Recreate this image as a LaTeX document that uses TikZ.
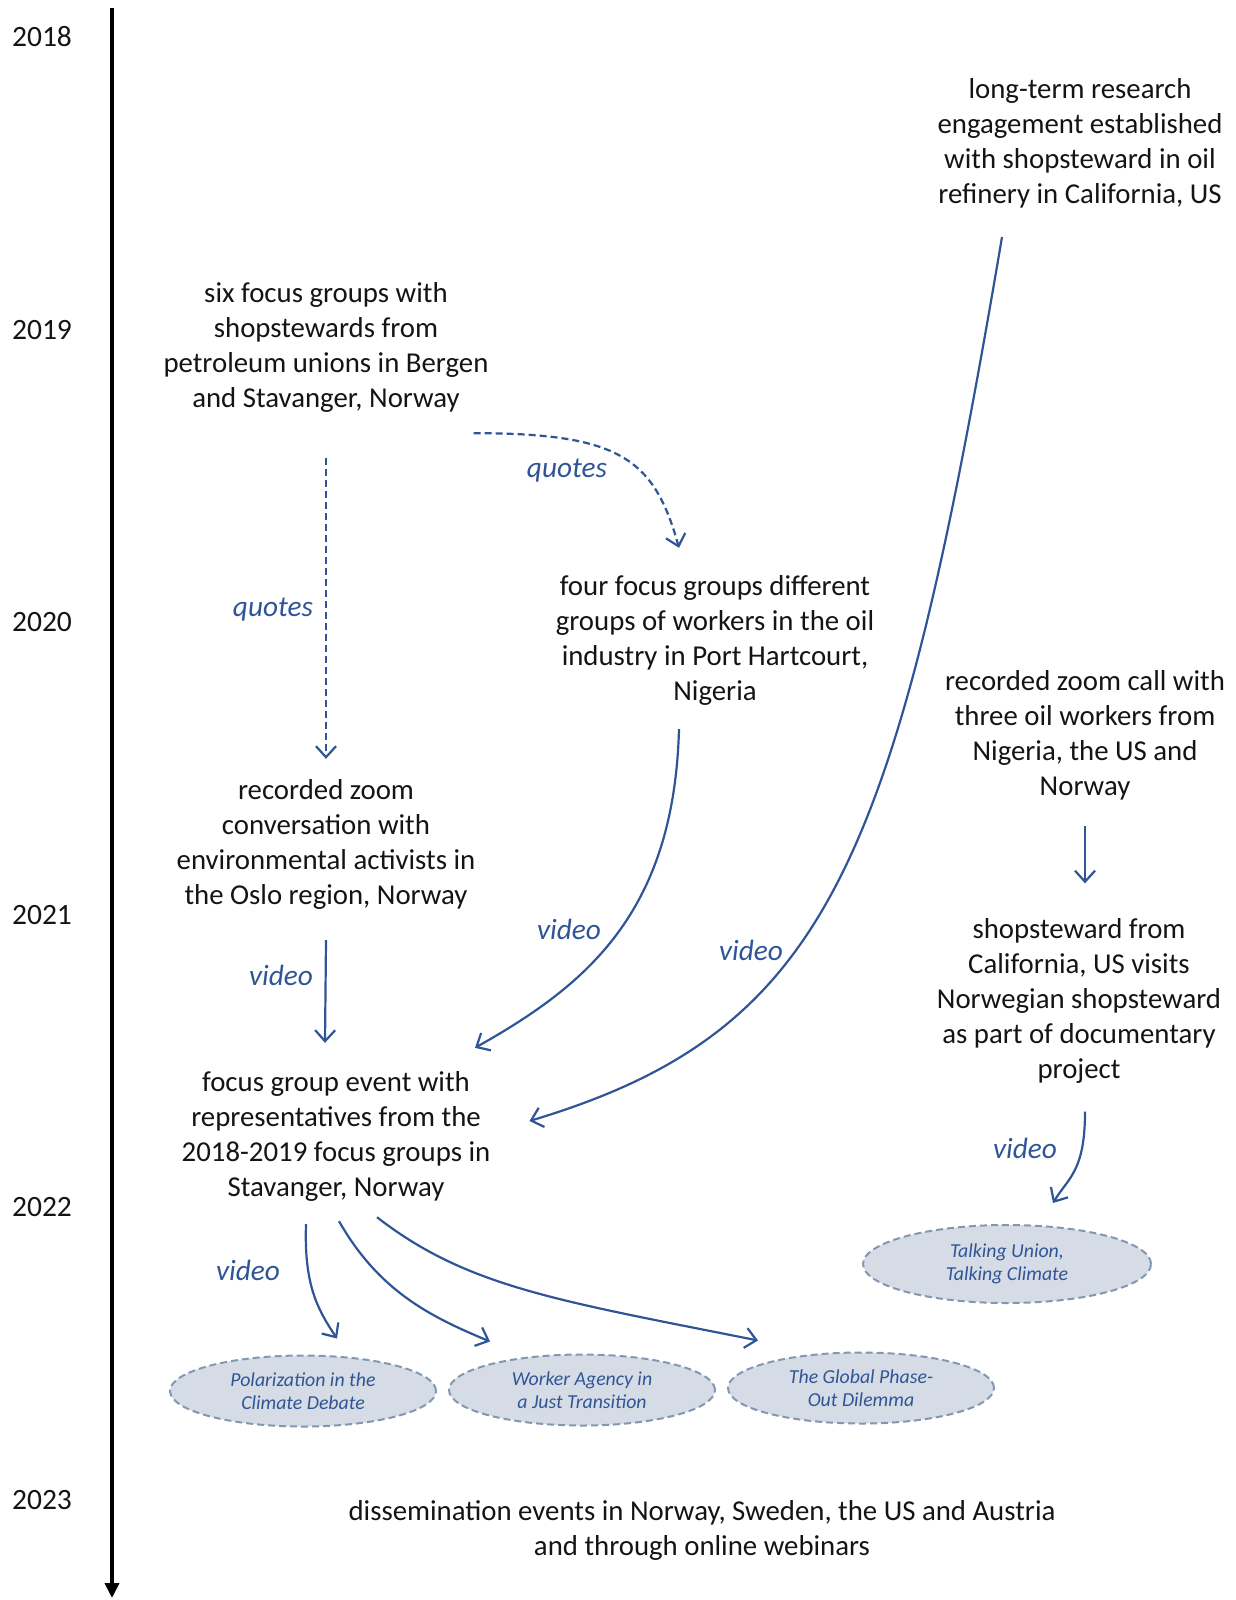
\documentclass[tikz,border=0pt]{standalone}
\usepackage{fontspec}
\setmainfont{Carlito}
\usetikzlibrary{arrows.meta,shapes.geometric}
\definecolor{arrowblue}{HTML}{2F5597}
\definecolor{ellfill}{HTML}{D6DCE5}
\definecolor{elldraw}{HTML}{8497B0}
\definecolor{ink}{HTML}{141414}
\tikzset{
	event/.style={align=center,inner sep=0pt,text=ink,font=\fontsize{28.8}{35}\selectfont},
	year/.style={inner sep=0pt,text=ink,font=\fontsize{29.5}{35}\selectfont},
	medium/.style={inner sep=0pt,text=arrowblue,font=\fontsize{29.3}{35}\selectfont\itshape},
	outlet/.style={ellipse,draw=elldraw,fill=ellfill,dashed,dash pattern=on 7pt off 4pt,line width=2pt,
		inner sep=0pt,minimum width=266,minimum height=71,align=center,text=arrowblue,
		font=\fontsize{19.8}{23.5}\selectfont\itshape},
	link/.style={arrowblue,line width=2.2pt,-{Straight Barb[length=11pt,width=20pt,line width=2.2pt]}},
	quoted/.style={link,dash pattern=on 7pt off 4pt}
}
\begin{document}
\begin{tikzpicture}[x=1pt,y=-1pt]
		\useasboundingbox (0,0) rectangle (1235,1600);
		\draw[line width=4pt,-{Triangle[length=15pt,width=14pt]}] (112,8) -- (112,1598);
		
		\node[year] (y18) at (42,37) {2018};
		\node[year] (y19) at (42,330) {2019};
		\node[year] (y20) at (42,622) {2020};
		\node[year] (y21) at (42,915) {2021};
		\node[year] (y22) at (42,1207) {2022};
		\node[year] (y23) at (42,1500) {2023};
		
		\node[event] (refinery) at (1080,143) {long-term research\\engagement established\\with shopsteward in oil\\refinery in California, US};
		\node[event] (sixfg) at (326,347) {six focus groups with\\shopstewards from\\petroleum unions in Bergen\\and Stavanger, Norway};
		\node[event] (fourfg) at (715,640) {four focus groups different\\groups of workers in the oil\\industry in Port Hartcourt,\\Nigeria};
		\node[event] (zoomcall) at (1085,735) {recorded zoom call with\\three oil workers from\\Nigeria, the US and\\Norway};
		\node[event] (activists) at (326,844) {recorded zoom\\conversation with\\environmental activists in\\the Oslo region, Norway};
		\node[event] (visit) at (1079,1001) {shopsteward from\\California, US visits\\Norwegian shopsteward\\as part of documentary\\project};
		\node[event] (fgevent) at (336,1136) {focus group event with\\representatives from the\\2018-2019 focus groups in\\Stavanger, Norway};
		\node[event] (dissem) at (702,1530) {dissemination events in Norway, Sweden, the US and Austria\\and through online webinars};
		
		\node[outlet] (polar) at (303,1391) {Polarization in the\\Climate Debate};
		\node[outlet] (agency) at (582,1390) {Worker Agency in\\a Just Transition};
		\node[outlet] (phaseout) at (861,1388) {The Global Phase-\\Out Dilemma};
		\node[outlet,minimum width=288,minimum height=78] (talking) at (1007,1264) {Talking Union,\\Talking Climate};
		
		\draw[quoted] ([yshift=-46pt]sixfg.south) -- ([yshift=20pt]activists.north);
		\draw[quoted] ([xshift=-15pt,yshift=-21pt]sixfg.south east) .. controls +(145,0) and +(-25,-90) .. ([xshift=-36pt,yshift=27pt]fourfg.north);
		\draw[link] ([yshift=-31pt]activists.south) -- ([xshift=-11pt,yshift=28pt]fgevent.north);
		\draw[link] ([xshift=-36pt,yshift=-24pt]fourfg.south) .. controls +(-5,185) and +(110,-62) .. ([xshift=139pt,yshift=23pt]fgevent.north);
		\draw[link] ([xshift=-78pt,yshift=-29pt]refinery.south) .. controls +(-106,626) and +(300,-90) .. ([xshift=39pt,yshift=15pt]fgevent.east);
		\draw[link] ([yshift=-26pt]zoomcall.south) -- ([xshift=6pt,yshift=35pt]visit.north);
		\draw[link] ([xshift=6pt,yshift=-28pt]visit.south) .. controls +(0,60) and +(15,-25) .. ([xshift=46pt,yshift=21pt]talking.north);
		\draw[link] ([xshift=-30pt,yshift=-23pt]fgevent.south) .. controls +(-2,60) and +(-20,-30) .. ([xshift=34pt,yshift=16pt]polar.north);
		\draw[link] ([xshift=3pt,yshift=-20pt]fgevent.south) .. controls +(40,70) and +(-60,-25) .. ([xshift=-92pt,yshift=12pt]agency.north);
		\draw[link] ([xshift=41pt,yshift=-16pt]fgevent.south) .. controls +(90,70) and +(-200,-40) .. ([xshift=-103pt,yshift=11pt]phaseout.north);
		
		\node[medium] (q1) at (273,610) {quotes};
		\node[medium] (q2) at (567,471) {quotes};
		\node[medium] (v1) at (281,975) {video};
		\node[medium] (v2) at (569,929) {video};
		\node[medium] (v3) at (751,950) {video};
		\node[medium] (v4) at (1025,1148) {video};
		\node[medium] (v5) at (248,1270) {video};
	\end{tikzpicture}
\end{document}
